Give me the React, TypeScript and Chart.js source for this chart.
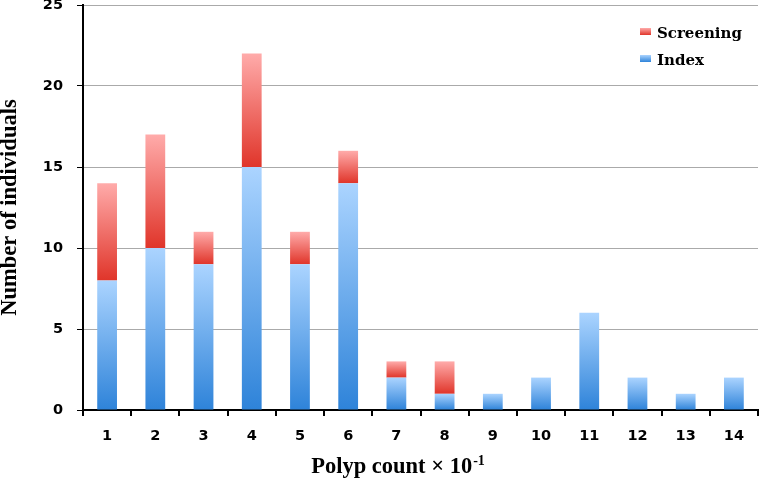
import React, { useEffect, useRef } from 'react';
import { Chart, registerables } from 'chart.js';

Chart.register(...registerables);

const categories = ['1', '2', '3', '4', '5', '6', '7', '8', '9', '10', '11', '12', '13', '14'];
const indexValues = [8, 10, 9, 15, 9, 14, 2, 1, 1, 2, 6, 2, 1, 2];
const screeningValues = [6, 7, 2, 7, 2, 2, 1, 2, 0, 0, 0, 0, 0, 0];
const yTickValues = [0, 5, 10, 15, 20, 25];
const indexLabel = 'Index';
const screeningLabel = 'Screening';
const xTitleMain = 'Polyp count × 10';
const xTitleExponent = '-1';
const yTitle = 'Number of individuals';

const indexColors = ['#abd4ff', '#2e83d9'];
const screeningColors = ['#ffabaa', '#e0352a'];

function segmentGradient(light: string, dark: string) {
  return (ctx: any) => {
    const chart = ctx.chart;
    const yScale = chart.scales && chart.scales.y;
    if (ctx.type !== 'data' || !yScale) return dark;
    const di = ctx.datasetIndex;
    let base = 0;
    for (let i = 0; i < di; i++) base += Number(chart.data.datasets[i].data[ctx.dataIndex]) || 0;
    const v = Number(chart.data.datasets[di].data[ctx.dataIndex]) || 0;
    const yTop = yScale.getPixelForValue(base + v);
    const yBot = yScale.getPixelForValue(base);
    if (!isFinite(yTop) || !isFinite(yBot) || yTop === yBot) return dark;
    const g = chart.ctx.createLinearGradient(0, yTop, 0, yBot);
    g.addColorStop(0, light);
    g.addColorStop(1, dark);
    return g;
  };
}

const cornerLegend = {
  id: 'cornerLegend',
  afterDraw(chart: any) {
    const c = chart.ctx;
    const area = chart.chartArea;
    const items = chart.data.datasets
      .map((d: any) => ({ label: d.label, colors: d.legendColors }))
      .reverse();
    c.save();
    c.font = 'bold 15px "DejaVu Serif"';
    c.textBaseline = 'alphabetic';
    c.textAlign = 'left';
    items.forEach((it: any, k: number) => {
      const by = area.top + 23 + k * 27;
      const bx = area.right - 118;
      const g = c.createLinearGradient(0, by, 0, by + 7);
      g.addColorStop(0, it.colors[0]);
      g.addColorStop(1, it.colors[1]);
      c.fillStyle = g;
      c.fillRect(bx, by, 11, 7);
      c.fillStyle = '#000';
      c.fillText(it.label, bx + 17, by + 10);
    });
    c.restore();
  },
};

const xTitlePlugin = {
  id: 'xTitleWithExponent',
  afterDraw(chart: any) {
    const c = chart.ctx;
    c.save();
    const mainFont = 'bold 22.5px "Liberation Serif"';
    const expFont = 'bold 14px "Liberation Serif"';
    c.font = mainFont;
    const w1 = c.measureText(xTitleMain).width;
    c.font = expFont;
    const w2 = c.measureText(xTitleExponent).width;
    const total = w1 + 1 + w2;
    const x0 = 398 - total / 2;
    const baseline = chart.height - 5;
    c.fillStyle = '#000';
    c.textAlign = 'left';
    c.textBaseline = 'alphabetic';
    c.font = mainFont;
    c.fillText(xTitleMain, x0, baseline);
    c.font = expFont;
    c.fillText(xTitleExponent, x0 + w1 + 1, baseline - 8);
    c.restore();
  },
};

export default function App() {
  const ref = useRef<HTMLCanvasElement | null>(null);

  useEffect(() => {
    document.body.style.margin = '0';
    const canvas = ref.current;
    if (!canvas) return;
    const tickFont = { family: '"DejaVu Sans"', size: 14.5, weight: 'bold' as const };
    const titleFont = { family: '"Liberation Serif"', size: 22.5, weight: 'bold' as const };
    const chart = new Chart(canvas, {
      type: 'bar',
      data: {
        labels: categories,
        datasets: [
          {
            label: indexLabel,
            data: indexValues,
            backgroundColor: segmentGradient(indexColors[0], indexColors[1]),
            borderWidth: 0,
            legendColors: indexColors,
          } as any,
          {
            label: screeningLabel,
            data: screeningValues,
            backgroundColor: segmentGradient(screeningColors[0], screeningColors[1]),
            borderWidth: 0,
            legendColors: screeningColors,
          } as any,
        ],
      },
      options: {
        responsive: false,
        animation: false,
        devicePixelRatio: 1,
        layout: { padding: { top: 5, right: 3, left: 0, bottom: 0 } },
        datasets: { bar: { categoryPercentage: 1, barPercentage: 0.41 } },
        plugins: {
          legend: { display: false },
          tooltip: { enabled: false },
        },
        scales: {
          x: {
            stacked: true,
            offset: true,
            grid: {
              offset: true,
              drawOnChartArea: false,
              drawTicks: true,
              tickLength: 6,
              color: '#000',
              lineWidth: 2,
            },
            border: { display: true, color: '#000', width: 2 },
            ticks: { font: tickFont, color: '#000', padding: 12, maxRotation: 0 },
            title: { display: false },
            afterFit(scale: any) {
              scale.height = 68;
              scale.paddingLeft = 0;
              scale.paddingRight = 0;
            },
          },
          y: {
            stacked: true,
            min: 0,
            max: 25,
            afterBuildTicks(scale: any) {
              scale.ticks = yTickValues.map((v) => ({ value: v }));
            },
            grid: {
              color: '#aaaaaa',
              lineWidth: 1,
              tickColor: '#000',
              tickLength: 6,
              drawTicks: true,
            },
            border: { display: true, color: '#000', width: 2 },
            ticks: { font: tickFont, color: '#000', padding: 14 },
            title: { display: true, text: yTitle, font: titleFont, color: '#000', padding: { top: -3, bottom: 4 } },
            afterFit(scale: any) {
              scale.width = 83;
              scale.paddingTop = 0;
              scale.paddingBottom = 0;
            },
          },
        },
      },
      plugins: [cornerLegend, xTitlePlugin],
    });
    return () => chart.destroy();
  }, []);

  return (
    <div style={{ width: 761, height: 478, position: 'relative' }}>
      <canvas ref={ref} width={761} height={478} style={{ display: 'block' }} />
    </div>
  );
}
